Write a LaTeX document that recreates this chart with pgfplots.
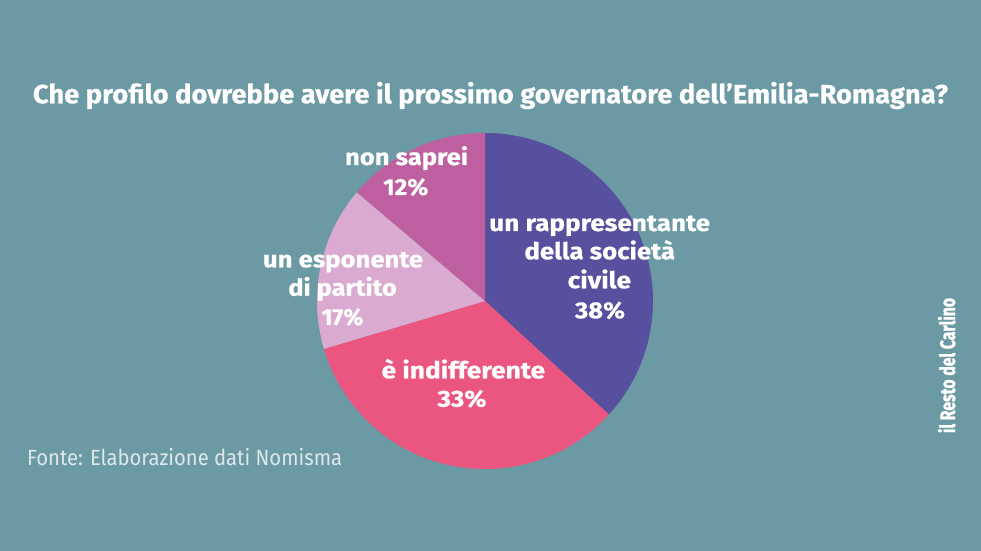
\documentclass[border=0pt]{standalone}
\usepackage{graphicx}
\usepackage{pgfplots}
\usepackage{pgfplotstable}
\pgfplotsset{compat=1.18}
\usepackage{fontspec}
\setmainfont{Fira Sans}
\newfontfamily\labfont[FakeBold=0.5]{Fira Sans Bold}
\newfontfamily\logofont[FakeBold=1.5]{Fira Sans Bold}
\definecolor{bg}{RGB}{107,154,165}
\definecolor{cP}{RGB}{86,80,158}
\definecolor{cR}{RGB}{235,86,129}
\definecolor{cL}{RGB}{218,170,208}
\definecolor{cM}{RGB}{190,96,160}
\definecolor{foot}{RGB}{222,232,234}
\newcommand\fit[2]{\resizebox{#1pt}{\height}{#2}}
% drawn share of each slice (as measured on the picture) and printed label
\pgfplotstableread{
share label
36.8 38
33.6 33
15.8 17
13.8 12
}\piedata
\begin{document}
\begin{tikzpicture}
\pgfplotstablegetelem{0}{share}\of\piedata \let\sA\pgfplotsretval
\pgfplotstablegetelem{1}{share}\of\piedata \let\sB\pgfplotsretval
\pgfplotstablegetelem{2}{share}\of\piedata \let\sC\pgfplotsretval
\pgfmathsetmacro\aA{90}
\pgfmathsetmacro\aB{90-3.6*\sA}
\pgfmathsetmacro\aC{\aB-3.6*\sB}
\pgfmathsetmacro\aD{\aC-3.6*\sC}
\pgfmathsetmacro\aE{-270}
\begin{axis}[
  x=0.5pt, y=0.5pt,
  xmin=0, xmax=981, ymin=0, ymax=551,
  hide axis, clip=false, scale only axis,
]
\fill[bg] (axis cs:0,0) rectangle (axis cs:981,551);
\fill[cP] (axis cs:485,250) -- ([shift={(\aA:84pt)}]axis cs:485,250) arc[start angle=\aA, end angle=\aB, radius=84pt] -- cycle;
\fill[cR] (axis cs:485,250) -- ([shift={(\aB:84pt)}]axis cs:485,250) arc[start angle=\aB, end angle=\aC, radius=84pt] -- cycle;
\fill[cL] (axis cs:485,250) -- ([shift={(\aC:84pt)}]axis cs:485,250) arc[start angle=\aC, end angle=\aD, radius=84pt] -- cycle;
\fill[cM] (axis cs:485,250) -- ([shift={(\aD:84pt)}]axis cs:485,250) arc[start angle=\aD, end angle=\aE, radius=84pt] -- cycle;
% title
\node[anchor=base, white, font=\fontsize{13.2}{15}\labfont] at (axis cs:490.5,447.7) {\fit{457.5}{Che profilo dovrebbe avere il prossimo governatore dell’Emilia-Romagna?}};
% labels
\begin{scope}[every node/.style={anchor=base, white, inner sep=0pt, font=\fontsize{11.6}{13}\labfont}]
\node at (axis cs:599.7,320) {\fit{110.4}{un rappresentante}};
\node at (axis cs:599.7,291.7) {\fit{75.3}{della società}};
\node at (axis cs:599.3,262.7) {\fit{31.7}{civile}};
\node at (axis cs:600,232.7) {\fit{25}{38\%}};
\node at (axis cs:463.3,172.7) {\fit{81.7}{è indifferente}};
\node at (axis cs:462,144.3) {\fit{24.5}{33\%}};
\node at (axis cs:406.5,386) {\fit{61.5}{non saprei}};
\node at (axis cs:405.8,356) {\fit{22.5}{12\%}};
\node at (axis cs:343,283.7) {\fit{80}{un esponente}};
\node at (axis cs:342.5,255.3) {\fit{54.2}{di partito}};
\node at (axis cs:342.5,226) {\fit{20.8}{17\%}};
\end{scope}
% source
\node[anchor=base west, inner sep=0pt, foot, font=\fontsize{11}{13}\selectfont] at (axis cs:26.7,85) {\fit{157.5}{Fonte: Elaborazione dati Nomisma}};
% logo
\node[anchor=base, inner sep=0pt, white, rotate=90, font=\fontsize{10.5}{11}\logofont] at (axis cs:955,185.5) {\fit{67.5}{il Resto del Carlino}};
\end{axis}
\end{tikzpicture}
\end{document}
